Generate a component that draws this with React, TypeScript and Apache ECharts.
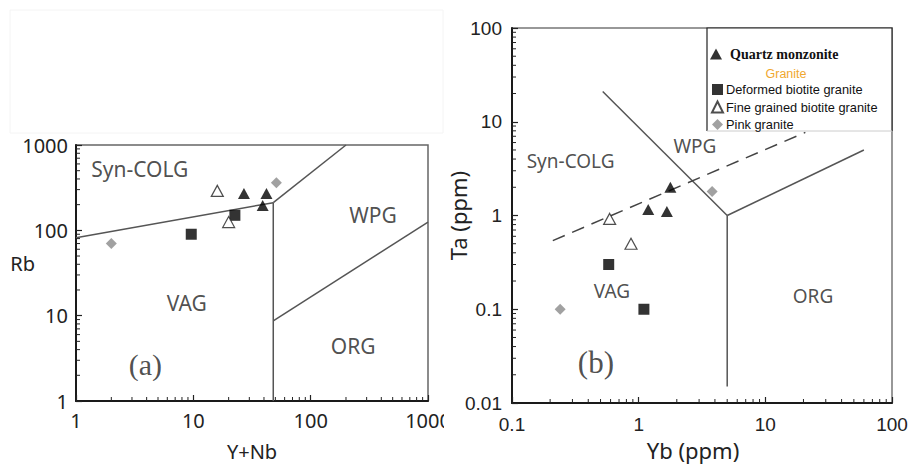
import React, { useEffect, useRef } from "react";
import * as echarts from "echarts";

// ---------- DATA ----------
const seriesNames = [
  "Quartz monzonite",
  "Deformed biotite granite",
  "Fine grained biotite granite",
  "Pink granite",
];
const groupTitle = "Granite";

// Panel (a): Y+Nb vs Rb
const aQuartzYNb = [27, 42, 39];
const aQuartzRb = [270, 270, 195];
const aDeformedYNb = [9.6, 22.6];
const aDeformedRb = [90, 150];
const aFineYNb = [16, 20];
const aFineRb = [290, 125];
const aPinkYNb = [2, 51];
const aPinkRb = [70, 360];

// Panel (b): Yb vs Ta
const bQuartzYb = [1.78, 1.19, 1.67];
const bQuartzTa = [2.0, 1.16, 1.1];
const bDeformedYb = [0.58, 1.1];
const bDeformedTa = [0.3, 0.1];
const bFineYb = [0.59, 0.87];
const bFineTa = [0.92, 0.5];
const bPinkYb = [0.24, 3.8];
const bPinkTa = [0.1, 1.8];

// Discrimination boundaries (data coordinates)
const aBoundaries = [
  [[1, 82], [48, 211]],
  [[48, 211], [200, 1000]],
  [[48, 1], [48, 211]],
  [[48, 8.7], [1000, 125]],
];
const bBoundaries = [
  [[0.52, 21], [5, 1]],
  [[5, 1], [5, 0.015]],
  [[5, 1], [60, 5]],
];
const bDashed = [[0.21, 0.54], [20.7, 7.7]];

// Field labels and their anchor positions (data coordinates)
const aFieldNames = ["Syn-COLG", "VAG", "WPG", "ORG"];
const aFieldX = [3.5, 8.8, 340, 230];
const aFieldY = [520, 14, 150, 4.4];
const bFieldNames = ["Syn-COLG", "WPG", "VAG", "ORG"];
const bFieldX = [0.29, 2.78, 0.615, 23.8];
const bFieldY = [3.8, 5.5, 0.157, 0.139];
const aTag = "(a)";
const bTag = "(b)";
const aTagPos = [3.9, 2.7];
const bTagPos = [0.46, 0.027];

// Axis ranges and minor ticks
const aXRange = [1, 1000];
const aYRange = [1, 1000];
const bXRange = [0.1, 100];
const bYRange = [0.01, 100];
const aMinorX = [2, 3, 4, 5, 6, 7, 8, 9, 20, 30, 40, 50, 60, 70, 80, 90, 200, 300, 400, 500, 600, 700, 800, 900];
const aMinorY = [2, 3, 4, 5, 6, 7, 8, 9, 20, 30, 40, 50, 60, 70, 80, 90, 200, 300, 400, 500, 600, 700, 800, 900];
const bMinorX = [0.2, 0.3, 0.4, 0.5, 0.6, 0.7, 0.8, 0.9, 2, 3, 4, 5, 6, 7, 8, 9, 20, 30, 40, 50, 60, 70, 80, 90];
const bMinorY = [0.02, 0.03, 0.04, 0.05, 0.06, 0.07, 0.08, 0.09, 0.2, 0.3, 0.4, 0.5, 0.6, 0.7, 0.8, 0.9, 2, 3, 4, 5, 6, 7, 8, 9, 20, 30, 40, 50, 60, 70, 80, 90];

const zip = (xs: number[], ys: number[]) => xs.map((x, i) => [x, ys[i]]);

const INK = "#1a1a1a";
const LINE = "#555";
const PINK = "#8a8a8a";
const SANS = "'Noto Sans', 'Liberation Sans', sans-serif";
const NARROW = "'Liberation Sans Narrow', 'Liberation Sans', sans-serif";
const SERIF = "'Liberation Serif', 'DejaVu Serif', serif";
const ARIAL = "'Liberation Sans', Arial, sans-serif";

const symbolStyles = [
  { symbol: "triangle", symbolSize: [12, 11], itemStyle: { color: "#000" } },
  { symbol: "rect", symbolSize: 11, itemStyle: { color: "#000" } },
  { symbol: "triangle", symbolSize: [12, 11], itemStyle: { color: "#fff", borderColor: "#222", borderWidth: 1.2 } },
  { symbol: "diamond", symbolSize: 11, itemStyle: { color: PINK } },
];

function scatterSet(grid: number, sets: number[][][]) {
  return sets.map((d, i) => ({
    type: "scatter",
    name: seriesNames[i],
    xAxisIndex: grid,
    yAxisIndex: grid,
    data: d,
    symbol: symbolStyles[i].symbol,
    symbolSize: symbolStyles[i].symbolSize,
    itemStyle: symbolStyles[i].itemStyle,
    z: 5,
  }));
}

function boundarySet(grid: number, segs: number[][][], dashed = false) {
  return segs.map((seg) => ({
    type: "line",
    xAxisIndex: grid,
    yAxisIndex: grid,
    data: seg,
    symbol: "none",
    silent: true,
    lineStyle: {
      color: dashed ? "#444" : LINE,
      width: 1.5,
      type: dashed ? [13, 8] : "solid",
    },
    z: 3,
  }));
}

function minorTicksX(grid: number, xs: number[], yMin: number) {
  return {
    type: "custom",
    xAxisIndex: grid,
    yAxisIndex: grid,
    silent: true,
    clip: false,
    data: xs.map((v) => [v, yMin]),
    renderItem: (params: any, api: any) => {
      const p = api.coord([api.value(0), api.value(1)]);
      return {
        type: "line",
        shape: { x1: p[0], y1: p[1], x2: p[0], y2: p[1] - 4 },
        style: { stroke: "#222", lineWidth: 1 },
      };
    },
    z: 6,
  };
}

function minorTicksY(grid: number, ys: number[], xMin: number) {
  return {
    type: "custom",
    xAxisIndex: grid,
    yAxisIndex: grid,
    silent: true,
    clip: false,
    data: ys.map((v) => [xMin, v]),
    renderItem: (params: any, api: any) => {
      const p = api.coord([api.value(0), api.value(1)]);
      return {
        type: "line",
        shape: { x1: p[0], y1: p[1], x2: p[0] + 4, y2: p[1] },
        style: { stroke: "#222", lineWidth: 1 },
      };
    },
    z: 6,
  };
}

function textMark(grid: number, name: string, x: number, y: number, size: number, family: string) {
  return {
    type: "scatter",
    xAxisIndex: grid,
    yAxisIndex: grid,
    silent: true,
    symbolSize: 0,
    data: [[x, y]],
    label: {
      show: true,
      position: "inside",
      formatter: name,
      color: "#222",
      fontFamily: family,
      fontSize: size,
    },
    z: 2,
  };
}

const plainNum = (v: number) => String(v);

export default function App() {
  const ref = useRef<HTMLDivElement>(null);

  useEffect(() => {
    if (!ref.current) return;
    const chart = echarts.init(ref.current, undefined, { renderer: "svg" });

    const axisCommon = {
      type: "log",
      logBase: 10,
      nameMoveOverlap: false,
      axisLine: { show: true, lineStyle: { color: INK, width: 2 } },
      axisTick: { show: true, inside: true, length: 6, lineStyle: { color: "#222", width: 1.2 } },
      splitLine: { show: false },
    };

    const option: any = {
      animation: false,
      backgroundColor: "#fff",
      grid: [
        { left: 76, top: 145, width: 352, height: 262, show: true, borderColor: "#666", borderWidth: 1.5, backgroundColor: "transparent" },
        { left: 512, top: 28, width: 380, height: 378, show: true, borderColor: "#777", borderWidth: 1.5, backgroundColor: "transparent" },
      ],
      xAxis: [
        {
          ...axisCommon,
          gridIndex: 0,
          min: aXRange[0],
          max: aXRange[1],
          name: "Y+Nb",
          nameLocation: "middle",
          nameGap: 40,
          nameTextStyle: { fontFamily: SANS, fontSize: 20, color: "#222" },
          axisLabel: { fontFamily: SANS, fontSize: 20, color: "#222", margin: 9, formatter: plainNum },
        },
        {
          ...axisCommon,
          gridIndex: 1,
          min: bXRange[0],
          max: bXRange[1],
          name: "Yb (ppm)",
          nameLocation: "middle",
          nameGap: 36,
          nameTextStyle: { fontFamily: SANS, fontSize: 22, color: "#222", padding: [0, 18, 0, 0] },
          axisLabel: { fontFamily: NARROW, fontSize: 19, color: "#222", margin: 12, formatter: plainNum },
        },
      ],
      yAxis: [
        {
          ...axisCommon,
          gridIndex: 0,
          min: aYRange[0],
          max: aYRange[1],
          name: "Rb",
          nameLocation: "middle",
          nameRotate: 0,
          nameGap: 41,
          nameTextStyle: { fontFamily: SANS, fontSize: 20, color: "#222", verticalAlign: "bottom", padding: [0, 0, 0, 0] },
          axisLabel: { fontFamily: SANS, fontSize: 20, color: "#222", margin: 8, formatter: plainNum },
        },
        {
          ...axisCommon,
          gridIndex: 1,
          min: bYRange[0],
          max: bYRange[1],
          name: "Ta (ppm)",
          nameLocation: "middle",
          nameGap: 43,
          nameTextStyle: { fontFamily: SANS, fontSize: 22, color: "#222" },
          axisLabel: { fontFamily: NARROW, fontSize: 19, color: "#222", margin: 10, formatter: plainNum },
        },
      ],
      legend: [
        {
          z: 20,
          orient: "vertical",
          left: 710,
          top: 47,
          padding: 0,
          itemWidth: 12,
          itemHeight: 11,
          selectedMode: false,
          data: [{ name: seriesNames[0], icon: "triangle" }],
          textStyle: { fontFamily: SERIF, fontWeight: "bold", fontSize: 14, color: "#111", padding: [0, 0, 0, 3] },
        },
        {
          z: 20,
          orient: "vertical",
          left: 711,
          top: 83,
          padding: 0,
          itemWidth: 11,
          itemHeight: 11,
          itemGap: 4.5,
          selectedMode: false,
          data: [
            { name: seriesNames[1], icon: "rect" },
            { name: seriesNames[2], icon: "triangle" },
            { name: seriesNames[3], icon: "diamond" },
          ],
          textStyle: { fontFamily: ARIAL, fontSize: 12.8, color: "#111", padding: [0, 0, 0, -2] },
        },
      ],
      graphic: [
        { type: "rect", z: 1, silent: true, shape: { x: 10, y: 10, width: 433, height: 123 }, style: { fill: "#fff", stroke: "#f4f4f4", lineWidth: 1 } },
        { type: "rect", z: 10, silent: true, shape: { x: 707, y: 28, width: 185, height: 103 }, style: { fill: "#fff" } },
        { type: "polyline", z: 11, silent: true, shape: { points: [[707, 131], [707, 28], [892, 28], [892, 131]] }, style: { stroke: "#222", lineWidth: 1.2, fill: null } },
        { type: "line", z: 11, silent: true, shape: { x1: 707, y1: 131, x2: 892, y2: 131 }, style: { stroke: "#ccc", lineWidth: 1 } },
        {
          type: "text",
          z: 21,
          silent: true,
          x: 786,
          y: 74,
          style: { text: groupTitle, fill: "#f0a830", fontFamily: ARIAL, fontSize: 12.5, align: "center", verticalAlign: "middle" },
        },
        { type: "rect", z: 30, silent: true, shape: { x: 444, y: 410, width: 16, height: 26 }, style: { fill: "#fff" } },
      ],
      series: [
        ...boundarySet(0, aBoundaries),
        ...boundarySet(1, bBoundaries),
        ...boundarySet(1, [bDashed], true),
        minorTicksX(0, aMinorX, aYRange[0]),
        minorTicksY(0, aMinorY, aXRange[0]),
        minorTicksX(1, bMinorX, bYRange[0]),
        minorTicksY(1, bMinorY, bXRange[0]),
        ...aFieldNames.map((n, i) => textMark(0, n, aFieldX[i], aFieldY[i], 21, SANS)),
        ...bFieldNames.map((n, i) => textMark(1, n, bFieldX[i], bFieldY[i], 19, SANS)),
        textMark(0, aTag, aTagPos[0], aTagPos[1], 30, SERIF),
        textMark(1, bTag, bTagPos[0], bTagPos[1], 31, SERIF),
        ...scatterSet(0, [
          zip(aQuartzYNb, aQuartzRb),
          zip(aDeformedYNb, aDeformedRb),
          zip(aFineYNb, aFineRb),
          zip(aPinkYNb, aPinkRb),
        ]),
        ...scatterSet(1, [
          zip(bQuartzYb, bQuartzTa),
          zip(bDeformedYb, bDeformedTa),
          zip(bFineYb, bFineTa),
          zip(bPinkYb, bPinkTa),
        ]),
      ],
    };

    chart.setOption(option);
    return () => chart.dispose();
  }, []);

  return (
    <div
      ref={ref}
      style={{ position: "absolute", left: 0, top: 0, width: 911, height: 466, background: "#fff" }}
    />
  );
}
